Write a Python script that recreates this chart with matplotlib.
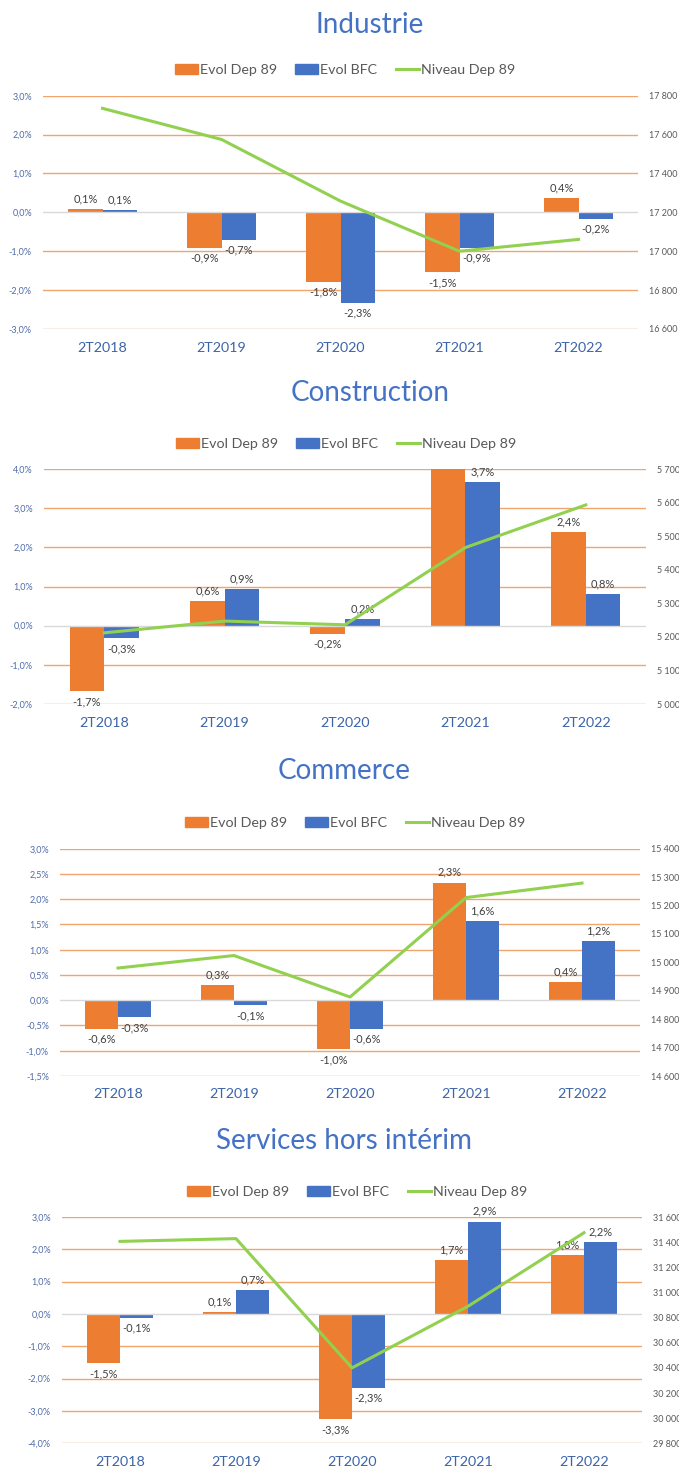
import numpy as np
import matplotlib
matplotlib.use("Agg")
import matplotlib.pyplot as plt
from matplotlib.patches import Patch
from matplotlib.lines import Line2D

plt.rcParams["font.family"] = ["Lato", "DejaVu Sans"]

# -------------------------
# DATA
# -------------------------
categories = ["2T2018", "2T2019", "2T2020", "2T2021", "2T2022"]

industrie_dep89 = [0.09, -0.91, -1.78, -1.54, 0.36]
industrie_bfc = [0.06, -0.70, -2.33, -0.91, -0.16]
industrie_niveau = [17735, 17575, 17258, 17000, 17061]

construction_dep89 = [-1.68, 0.62, -0.20, 4.30, 2.39]
construction_bfc = [-0.32, 0.93, 0.16, 3.66, 0.80]
construction_niveau = [5212, 5247, 5236, 5466, 5593]

commerce_dep89 = [-0.56, 0.30, -0.97, 2.33, 0.36]
commerce_bfc = [-0.34, -0.10, -0.57, 1.56, 1.17]
commerce_niveau = [14980, 15024, 14878, 15228, 15279]

services_dep89 = [-1.53, 0.06, -3.26, 1.66, 1.81]
services_bfc = [-0.12, 0.74, -2.29, 2.86, 2.22]
services_niveau = [31406, 31428, 30400, 30890, 31475]

# title, dep89, bfc, niveau, left axis (min, max, step), right axis (min, max, step)
sections = [
    ("Industrie", industrie_dep89, industrie_bfc, industrie_niveau, (-3, 3, 1), (16600, 17800, 200)),
    ("Construction", construction_dep89, construction_bfc, construction_niveau, (-2, 4, 1), (5000, 5700, 100)),
    ("Commerce", commerce_dep89, commerce_bfc, commerce_niveau, (-1.5, 3, 0.5), (14600, 15400, 100)),
    ("Services hors intérim", services_dep89, services_bfc, services_niveau, (-4, 3, 1), (29800, 31600, 200)),
]

# -------------------------
# LAYOUT (pixels)
# -------------------------
W, H = 679, 1470
# axes box: left, top, right, bottom
boxes = [(43, 95.7, 638, 329), (44, 469, 646, 704), (60, 848.7, 640, 1076), (62, 1217, 642, 1443.3)]
title_pos = [(370, 25), (370, 393), (344, 771), (344, 1141)]
legend_pos = [(345, 70), (346, 444), (355, 823), (357, 1192)]

ORANGE = "#ED7D31"
BLUE = "#4472C4"
GREEN = "#92D050"
GRID = "#F2A46E"
ZERO = "#D9D9D9"
LABEL = "#404040"

fig = plt.figure(figsize=(W / 100, H / 100), dpi=100)
x = np.arange(len(categories))
bw = 0.287


def pct(v):
    return f"{v:.1f}".replace(".", ",") + "%"


for (title, dep, bfc, niveau, lt, rt), box, tp, lp in zip(sections, boxes, title_pos, legend_pos):
    l, t, r, b = box
    ax = fig.add_axes([l / W, 1 - b / H, (r - l) / W, (b - t) / H])

    ax.bar(x - bw / 2, dep, bw, color=ORANGE, zorder=2)
    ax.bar(x + bw / 2, bfc, bw, color=BLUE, zorder=2)

    ax.set_xlim(-0.5, len(categories) - 0.5)
    ax.set_ylim(lt[0], lt[1])
    yt = np.arange(lt[0], lt[1] + lt[2] / 2, lt[2])
    ax.set_yticks(yt)
    ax.set_yticklabels([pct(v) for v in yt])
    for v in yt:
        if abs(v) < 1e-9:
            ax.axhline(v, color=ZERO, lw=1.0, zorder=3)
        else:
            ax.axhline(v, color=GRID, lw=1.0, zorder=1)

    # data labels (outside end)
    for i in range(len(categories)):
        for off, v in ((-bw / 2, dep[i]), (bw / 2, bfc[i])):
            if v > lt[1] or v < lt[0]:
                continue
            if v >= 0:
                ax.annotate(pct(v), (x[i] + off, v), xytext=(0, 3.5), textcoords="offset points",
                            ha="center", va="bottom", fontsize=8, color=LABEL)
            else:
                ax.annotate(pct(v), (x[i] + off, v), xytext=(0, -3.5), textcoords="offset points",
                            ha="center", va="top", fontsize=8, color=LABEL)

    ax.set_xticks(x)
    ax.set_xticklabels(categories, fontsize=10.3, color="#3C64AA")
    ax.tick_params(axis="x", length=0, pad=9)
    ax.tick_params(axis="y", length=0, pad=8, labelsize=6.5, labelcolor="#4F6BA8")
    for s in ax.spines.values():
        s.set_visible(False)

    ax2 = ax.twinx()
    ax2.plot(x, niveau, color=GREEN, lw=2.2)
    ax2.set_ylim(rt[0], rt[1])
    rticks = np.arange(rt[0], rt[1] + rt[2] / 2, rt[2])
    ax2.set_yticks(rticks)
    ax2.set_yticklabels([f"{int(v):,}".replace(",", " ") for v in rticks])
    ax2.tick_params(axis="y", length=0, pad=8, labelsize=6.5, labelcolor="#595959")
    for s in ax2.spines.values():
        s.set_visible(False)

    fig.text(tp[0] / W, 1 - tp[1] / H, title, ha="center", va="center", fontsize=20, color="#4472C4")

    handles = [Patch(color=ORANGE), Patch(color=BLUE), Line2D([], [], color=GREEN, lw=2.2)]
    fig.legend(handles, ["Evol Dep 89", "Evol BFC", "Niveau Dep 89"], loc="center",
               bbox_to_anchor=(lp[0] / W, 1 - lp[1] / H), ncol=3, frameon=False,
               fontsize=10.3, labelcolor="#595959", handlelength=1.6, handleheight=0.65,
               handletextpad=0.15, columnspacing=1.3, borderpad=0)

fig.savefig("out.png", dpi=100)
